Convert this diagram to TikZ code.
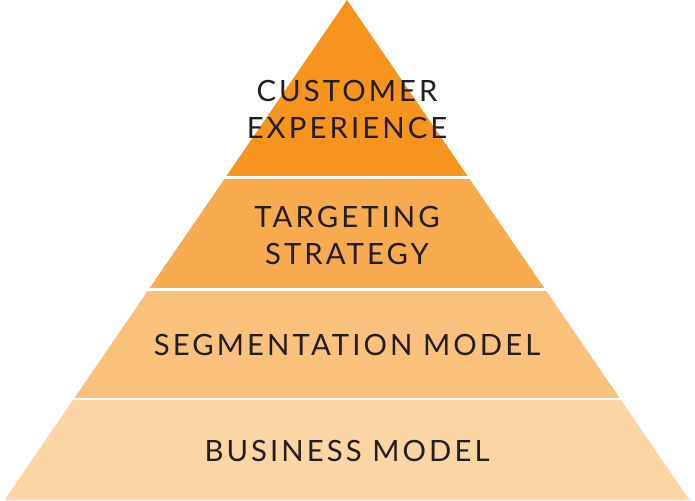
\documentclass[tikz,border=0pt]{standalone}
\usepackage{fontspec}
\setmainfont{Lato}[LetterSpace=10.5]
\usetikzlibrary{positioning}
\definecolor{tierA}{RGB}{247,148,30}
\definecolor{tierB}{RGB}{248,170,78}
\definecolor{tierC}{RGB}{250,193,125}
\definecolor{tierD}{RGB}{252,213,165}
\definecolor{inkgray}{RGB}{35,31,32}

\begin{document}
\begin{tikzpicture}[x=1pt, y=-1pt,
  tier/.style={align=center, anchor=base, text=inkgray,
    font=\fontsize{29.3}{36.6}\selectfont, inner sep=0pt}]
\useasboundingbox (0,0) rectangle (695,500);
\coordinate (apex) at (347,0);
\coordinate (baseL) at (4.5,500);
\coordinate (baseR) at (689.5,500);
% four bands cut out of one triangle
\begin{scope}
\clip (apex) -- (baseR) -- (baseL) -- cycle;
\fill[tierA] (0,0) rectangle (695,175.5);
\fill[tierB] (0,178.5) rectangle (695,287.5);
\fill[tierC] (0,290.5) rectangle (695,397.5);
\fill[tierD] (0,399.5) rectangle (695,500);
\end{scope}
\node[tier] (customer) at (347,138) {CUSTOMER\\EXPERIENCE};
\node[tier] (targeting) at (347,264) {TARGETING\\STRATEGY};
\node[tier] (segmentation) at (347,355.5) {SEGMENTATION MODEL};
\node[tier] (business) at (347,461) {BUSINESS MODEL};
\end{tikzpicture}
\end{document}
